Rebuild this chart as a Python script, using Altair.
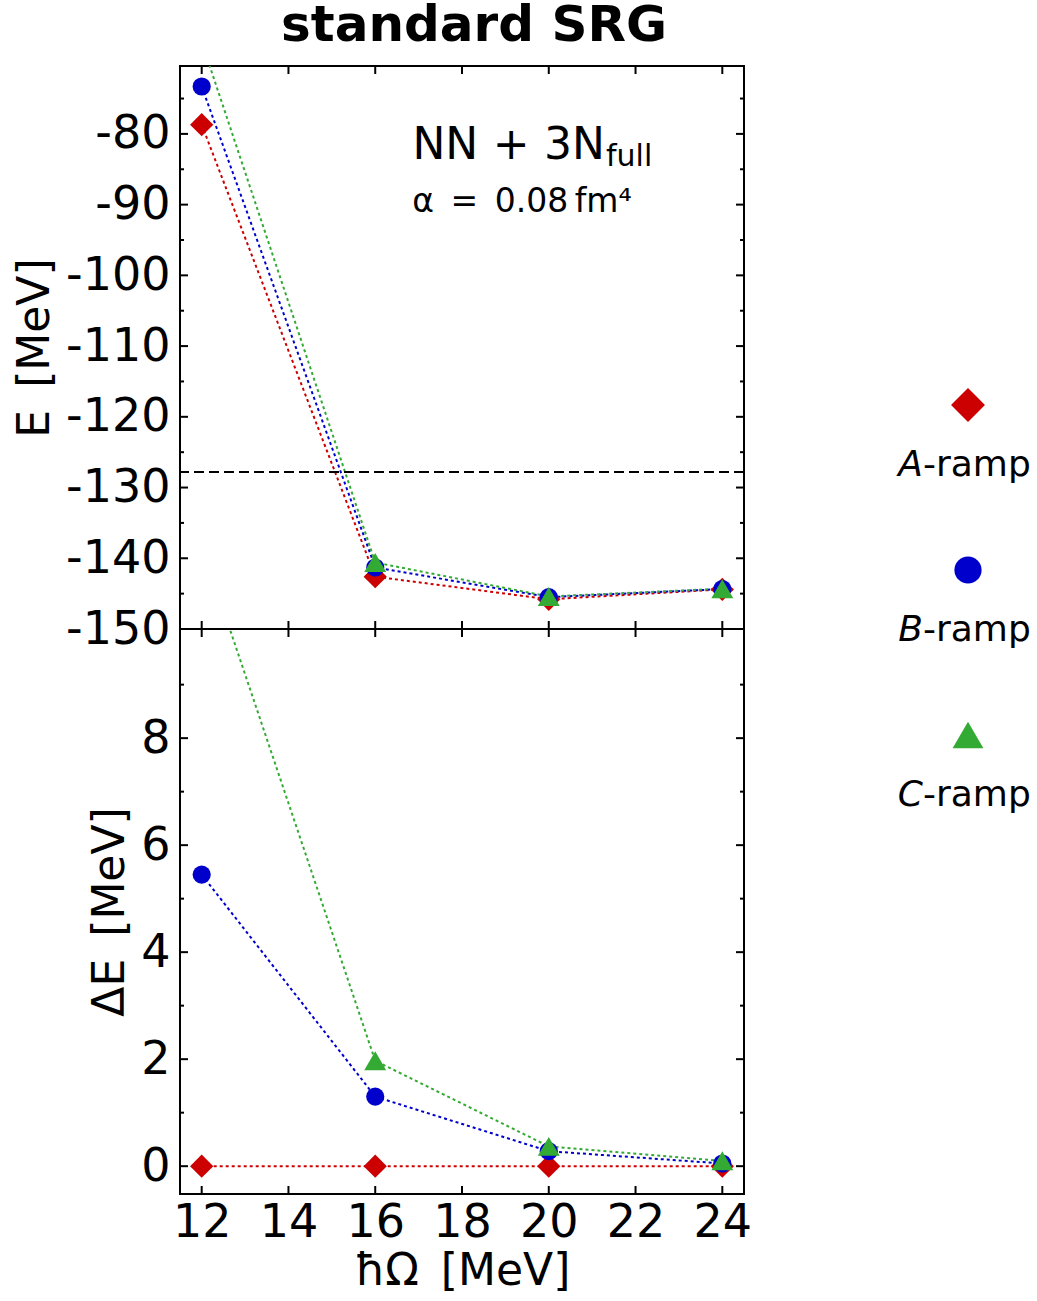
import altair as alt
import pandas as pd

# ---------------- data ----------------
hw = [12, 16, 20, 24]
series = ["A-ramp", "B-ramp", "C-ramp"]
legend_letters = ["A", "B", "C"]
legend_suffix = "-ramp"

E_A = [-78.7, -142.6, -145.8, -144.4]
E_B = [-73.3, -141.3, -145.5, -144.35]
E_C = [-67.0, -140.6, -145.4, -144.3]

dE_A = [0.0, 0.0, 0.0, 0.0]
dE_B = [5.45, 1.30, 0.28, 0.05]
dE_C = [11.6, 1.97, 0.37, 0.10]

E_ref = [-127.8]

x_ticks = [12, 14, 16, 18, 20, 22, 24]
yE_major = [-150, -140, -130, -120, -110, -100, -90, -80]
yE_minor = [-145, -135, -125, -115, -105, -95, -85, -75]
ydE_major = [0, 2, 4, 6, 8]
ydE_minor = [1, 3, 5, 7, 9]

title_text = "standard SRG"
annot_main = "NN\u2004+\u20043N"
annot_sub = "full"
annot_alpha = "α\u2002=\u20020.08\u2009fm⁴"
x_title = "ħΩ\u2002[MeV]"
yE_title = "E\u2002[MeV]"
ydE_title = "ΔE\u2002[MeV]"

# ---------------- styles ----------------
colors = ["#cc0000", "#0000cc", "#33aa33"]
shapes = ["diamond", "circle", "triangle-up"]
sizes_plot = [540, 330, 480]
sizes_legend = [1150, 740, 950]
FONT = "DejaVu Sans"
W = 564
H_TOP = 563
H_BOT = 565
MAJ = 8
MIN = 4
LBL = 46
TTL = 44


def long_df(vals):
    rows = []
    for s, v in zip(series, vals):
        for x, y in zip(hw, v):
            rows.append({"series": s, "hw": x, "val": y})
    return pd.DataFrame(rows)


df_E = long_df([E_A, E_B, E_C])
df_dE = long_df([dE_A, dE_B, dE_C])

color_enc = alt.Color("series:N", scale=alt.Scale(domain=series, range=colors), legend=None)


def tick_layers(xsc, ysc, ymaj, ymin, H):
    out = []
    xt = alt.Chart(pd.DataFrame({"v": x_ticks}))
    for y0, y1 in [(0, MAJ), (H - MAJ, H)]:
        out.append(xt.mark_rule(color="black", strokeWidth=2).encode(
            x=alt.X("v:Q", scale=xsc, axis=None), y=alt.value(y0), y2=alt.value(y1)))
    for vals, ln in [(ymaj, MAJ), (ymin, MIN)]:
        yt = alt.Chart(pd.DataFrame({"v": vals}))
        for x0, x1 in [(0, ln), (W - ln, W)]:
            out.append(yt.mark_rule(color="black", strokeWidth=2).encode(
                y=alt.Y("v:Q", scale=ysc, axis=None), x=alt.value(x0), x2=alt.value(x1)))
    return out


def panel(df, ydom, ymaj, ymin, H, bottom, ytitle, extra):
    xsc = alt.Scale(domain=[11.5, 24.5], nice=False, zero=False)
    ysc = alt.Scale(domain=ydom, nice=False, zero=False)

    if bottom:
        xaxis_main = alt.Axis(orient="bottom", values=x_ticks, ticks=False, tickSize=0,
                              domain=False, grid=False, labelFontSize=LBL, labelFont=FONT,
                              labelColor="black", labelPadding=6,
                              labelExpr="'' + datum.value",
                              title=x_title, titleFontSize=TTL, titleFont=FONT,
                              titleFontWeight="normal", titleColor="black", titlePadding=4)
        x_main = alt.X("hw:Q", scale=xsc, axis=xaxis_main)
    else:
        x_main = alt.X("hw:Q", scale=xsc, axis=None)

    yaxis_main = alt.Axis(orient="left", values=ymaj, ticks=False, tickSize=0, domain=False,
                          grid=False, labelFontSize=LBL, labelFont=FONT, labelColor="black",
                          labelPadding=10, labelExpr="'' + datum.value",
                          title=ytitle, titleFontSize=TTL, titleFont=FONT,
                          titleFontWeight="normal", titleColor="black", titlePadding=8)

    lines = alt.Chart(df).mark_line(clip=True, strokeDash=[3, 3], strokeWidth=2).encode(
        x=x_main,
        y=alt.Y("val:Q", scale=ysc, axis=yaxis_main),
        color=color_enc,
    )
    pts = []
    for s, shp, sz, col in zip(series, shapes, sizes_plot, colors):
        pts.append(alt.Chart(df).transform_filter(alt.datum.series == s).transform_filter(
            alt.datum.val <= ydom[1]).mark_point(
            filled=True, opacity=1, clip=True, shape=shp, size=sz, color=col).encode(
            x=alt.X("hw:Q", scale=xsc, axis=None),
            y=alt.Y("val:Q", scale=ysc, axis=None),
        ))
    layers = [lines] + extra(xsc, ysc) + pts + tick_layers(xsc, ysc, ymaj, ymin, H)
    return alt.layer(*layers).resolve_axis(x="independent", y="independent").properties(
        width=W, height=H)


def top_extra(xsc, ysc):
    rule = alt.Chart(pd.DataFrame({"val": E_ref})).mark_rule(
        color="black", strokeDash=[10, 5], strokeWidth=2).encode(
        y=alt.Y("val:Q", scale=ysc, axis=None))
    t0 = alt.Chart(pd.DataFrame({"t": [title_text]})).mark_text(
        align="center", baseline="alphabetic", fontSize=50, fontWeight="bold", font=FONT,
        color="black").encode(text="t:N", x=alt.value(W / 2 + 12), y=alt.value(-25))
    t1 = alt.Chart(pd.DataFrame({"t": [annot_main]})).mark_text(
        align="right", baseline="alphabetic", fontSize=44, font=FONT, color="black").encode(
        text="t:N", x=alt.value(425), y=alt.value(93))
    t2 = alt.Chart(pd.DataFrame({"t": [annot_sub]})).mark_text(
        align="left", baseline="alphabetic", fontSize=30, font=FONT, color="black").encode(
        text="t:N", x=alt.value(426), y=alt.value(100))
    t3 = alt.Chart(pd.DataFrame({"t": [annot_alpha]})).mark_text(
        align="center", baseline="alphabetic", fontSize=33, font=FONT, color="black").encode(
        text="t:N", x=alt.value(342), y=alt.value(146))
    return [rule, t0, t1, t2, t3]


def no_extra(xsc, ysc):
    return []


top = panel(df_E, [-150, -70.4], yE_major, yE_minor, H_TOP, False, yE_title, top_extra)
bot = panel(df_dE, [-0.52, 10.04], ydE_major, ydE_minor, H_BOT, True, ydE_title, no_extra)

left = alt.vconcat(top, bot, spacing=0, bounds="flush")

# legend panel
leg_df = pd.DataFrame({"series": series, "letter": legend_letters,
                       "suffix": [legend_suffix] * len(series)})
ysc_leg = alt.Scale(type="point", domain=series, range=[339, 669], padding=0)
leg_layers = []
for s, shp, sz, col in zip(series, shapes, sizes_legend, colors):
    leg_layers.append(alt.Chart(leg_df).transform_filter(alt.datum.series == s).mark_point(
        filled=True, opacity=1, shape=shp, size=sz, color=col).encode(
        y=alt.Y("series:N", scale=ysc_leg, axis=None)))
leg_letter = alt.Chart(leg_df).mark_text(
    align="right", baseline="alphabetic", dx=-45, dy=71, fontSize=36, font=FONT,
    fontStyle="italic", color="black").encode(
    y=alt.Y("series:N", scale=ysc_leg, axis=None), text="letter:N")
leg_suffix = alt.Chart(leg_df).mark_text(
    align="left", baseline="alphabetic", dx=-45, dy=71, fontSize=36, font=FONT,
    color="black").encode(
    y=alt.Y("series:N", scale=ysc_leg, axis=None), text="suffix:N")
legend = alt.layer(*leg_layers, leg_letter, leg_suffix).properties(
    width=100, height=H_TOP + H_BOT, view=alt.ViewBackground(stroke="transparent"))

chart = alt.hconcat(left, legend, spacing=143).properties(
    padding={"left": 12, "top": 0, "right": 0, "bottom": 0}
).configure(font=FONT, view=alt.ViewConfig(stroke="black", strokeWidth=2))

chart.save("out.html", embed_options={"renderer": "svg", "actions": False})
